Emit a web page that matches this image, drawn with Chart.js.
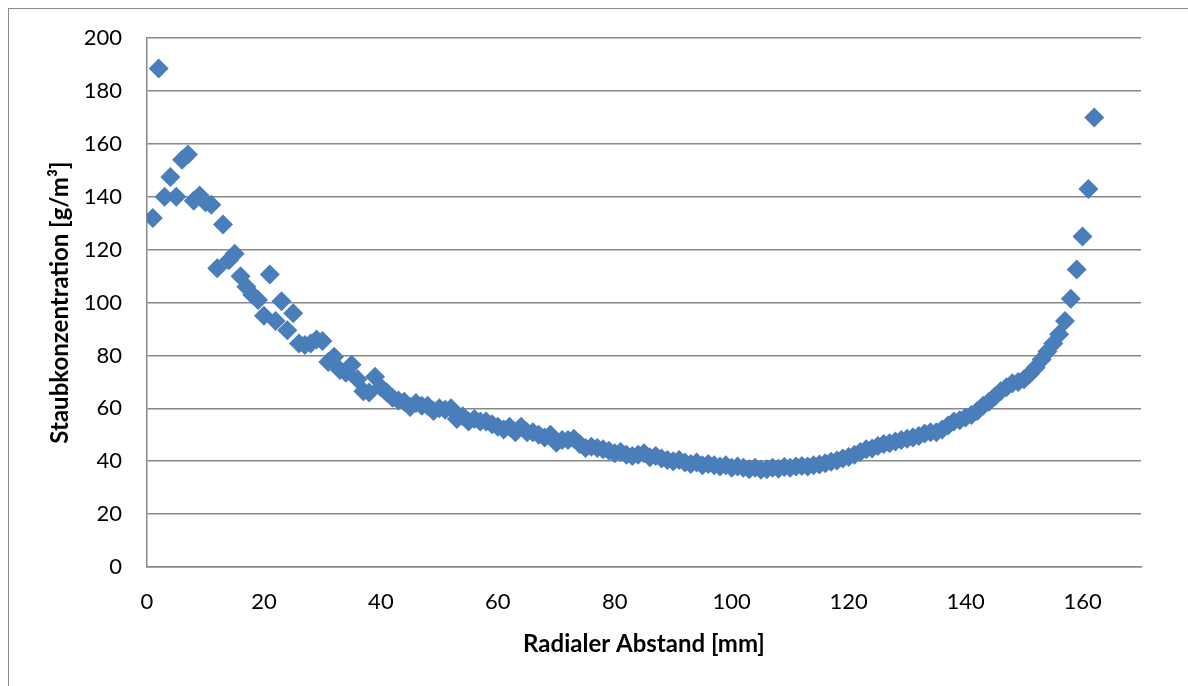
<!DOCTYPE html>
<html>
<head>
<meta charset="utf-8">
<script src="https://cdn.jsdelivr.net/npm/chart.js@4/dist/chart.umd.min.js"></script>
<style>
  html, body { margin: 0; padding: 0; background: #ffffff; overflow: hidden; }
  #frame { position: absolute; left: 8px; top: 8px; width: 1200px; height: 700px; border: 1px solid #8a8a8a; box-sizing: border-box; }
  #wrap { position: absolute; left: 0; top: 0; width: 1188px; height: 686px; }
</style>
</head>
<body>
<div id="frame"></div>
<div id="wrap"><canvas id="c" width="1188" height="686"></canvas></div>
<script>
const xTitle = "Radialer Abstand [mm]";
const yTitle = "Staubkonzentration [g/m³]";

const radius = [
  1,2,3,4,5,6,7,8,9,10,11,12,13,14,15,16,17,18,19,20,
  21,22,23,24,25,26,27,28,29,30,31,32,33,34,35,36,37,38,39,40,
  41,42,43,44,45,46,47,48,49,50,51,52,53,54,55,56,57,58,59,60,
  61,62,63,64,65,66,67,68,69,70,71,72,73,74,75,76,77,78,79,80,
  81,82,83,84,85,86,87,88,89,90,91,92,93,94,95,96,97,98,99,100,
  101,102,103,104,105,106,107,108,109,110,111,112,113,114,115,116,117,118,119,120,
  121,122,123,124,125,126,127,128,129,130,131,132,133,134,135,136,137,138,139,140,
  141,142,143,144,145,146,147,148,149,150,151,152,153,154,155,156,157,158,159,160,
  161,162
];

const concentration = [
  132,188.5,140,147.5,140,154,156,138.5,140.5,138,137,113,129.5,116,118.5,110,106,103,101,95,
  110.6,93,100.5,89.5,96,84.5,84,84.5,86,85.5,77.5,79.5,74.5,73.5,76.5,71,66.5,66,72,68,
  66,64,63,62.5,60.5,62,61,61,59,60,59.5,60,56,57,55,56,55,55,54,53,
  52,53,51,53,51,51,50,49,50,47,48,48,48.5,46.5,45,45.5,45,44.5,44,43,
  43.5,42.5,42,42.5,43,41.5,42,41,40.5,40,40.5,39.5,39,39.5,38.5,39,38.5,38,38.5,37.5,
  38,37.5,37,37.5,36.8,37,37.5,37.2,37.8,37.5,38,38.2,38,38.5,38.8,39.2,39.8,40.3,41,41.6,
  42.5,43.5,44.5,44.8,45.8,46.5,46.8,47.5,48,48.5,49,49.5,50.5,51,51,52,53.5,55,55.5,56.5,
  57.5,59,61,62.5,64.5,66.5,68,69.5,70,71,73,75.5,78.5,81.5,84.5,88,93,101.5,112.5,125,
  143,170
];

const xMin = 0, xMax = 170, xStep = 20;
const yMin = 0, yMax = 200, yStep = 20;

const points = radius.map((r, i) => ({ x: r, y: concentration[i] }));

const FONT = "Lato, 'Open Sans', 'DejaVu Sans', sans-serif";
const GRID = "#878787";

new Chart(document.getElementById('c'), {
  type: 'scatter',
  data: {
    datasets: [{
      data: points,
      pointStyle: 'rectRot',
      pointRadius: 10,
      pointHoverRadius: 10,
      pointBackgroundColor: '#4A7EBB',
      pointBorderColor: '#4A7EBB',
      pointBorderWidth: 0
    }]
  },
  options: {
    responsive: false,
    animation: false,
    events: [],
    layout: { padding: { left: 0, top: 37, right: 47, bottom: 0 } },
    plugins: { legend: { display: false }, tooltip: { enabled: false } },
    scales: {
      x: {
        type: 'linear',
        min: xMin, max: xMax,
        afterFit: s => { s.height = 119; },
        afterBuildTicks: s => { s.ticks = s.ticks.filter(t => t.value % xStep === 0); },
        ticks: { stepSize: xStep, color: '#000', padding: 22, font: { family: FONT, size: 22 }, maxRotation: 0 },
        grid: { display: false, drawTicks: false },
        border: { display: true, color: GRID, width: 1.5 },
        title: { display: true, text: xTitle, color: '#000', font: { family: FONT, size: 24, weight: 'bold' }, padding: { top: 0, bottom: 27 } }
      },
      y: {
        type: 'linear',
        min: yMin, max: yMax,
        afterFit: s => { s.width = 147; },
        ticks: { stepSize: yStep, color: '#000', padding: 25, font: { family: FONT, size: 22 } },
        grid: { display: true, color: GRID, lineWidth: 1.5, drawTicks: false },
        border: { display: true, color: GRID, width: 1.5 },
        title: { display: true, text: yTitle, color: '#000', font: { family: FONT, size: 24, weight: 'bold' }, padding: { top: 46, bottom: 0 } }
      }
    }
  }
});
</script>
</body>
</html>
